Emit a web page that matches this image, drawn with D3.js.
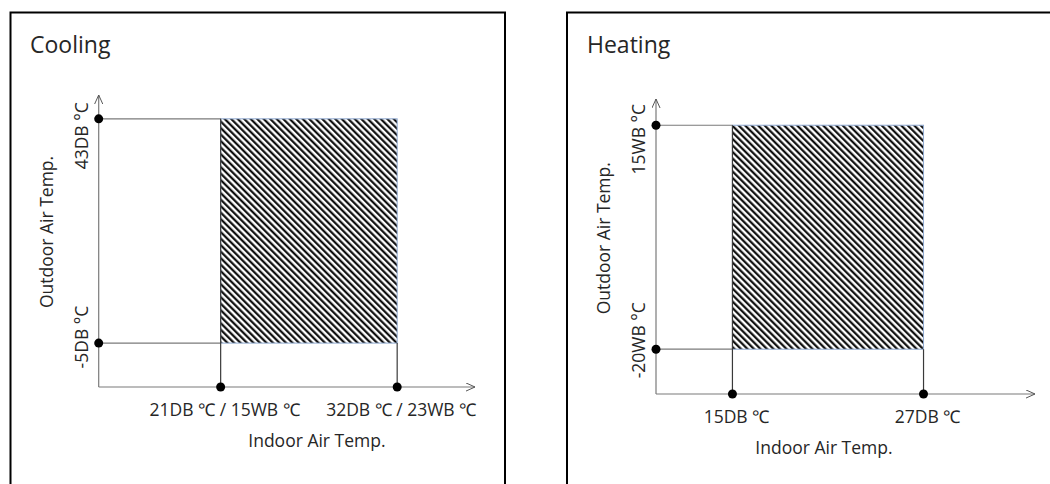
<!DOCTYPE html>
<html>
<head>
<meta charset="utf-8">
<script src="https://cdn.jsdelivr.net/npm/d3@7"></script>
<style>
  body { margin: 0; background: #fff; }
  text { font-family: "Open Sans", Lato, sans-serif; fill: #262626; }
</style>
</head>
<body>
<script>
// data
var titles = ["Cooling", "Heating"];
var indoorLimits = [[21, 32], [15, 27]];
var indoorLabels = [["21DB ℃ / 15WB ℃", "32DB ℃ / 23WB ℃"], ["15DB ℃", "27DB ℃"]];
var outdoorLimits = [[-5, 43], [-20, 15]];
var outdoorLabels = [["-5DB °C", "43DB °C"], ["-20WB °C", "15WB °C"]];
var indoorDomain = [[13.4, 36.85], [10.2, 34.0]];
var outdoorDomain = [[-14.4, 48.1], [-27.0, 19.1]];
var xTitle = "Indoor Air Temp.", yTitle = "Outdoor Air Temp.";

// layout of each panel (box + axis frame)
var panels = [
  { box: [10.5, 12.5, 494.5, 500], tx: 30, x0: 98.7, x1: 475, y0: 387, y1: 95, yShift: [-6, 17], xTitleDx: 8 },
  { box: [567, 12.5, 500, 500], tx: 587, x0: 656, x1: 1035, y0: 394, y1: 99, yShift: [-9, 14], xTitleDx: -4 }
];

var fs = "17.5px";

var svg = d3.select("body").append("svg")
  .attr("width", 1050)
  .attr("height", 484);

var defs = svg.append("defs");
defs.append("pattern")
  .attr("id", "hatch")
  .attr("patternUnits", "userSpaceOnUse")
  .attr("width", 4.6)
  .attr("height", 4.6)
  .attr("patternTransform", "rotate(-45)")
  .append("line")
  .attr("x1", 1.2).attr("y1", -1)
  .attr("x2", 1.2).attr("y2", 6)
  .attr("stroke", "#000")
  .attr("stroke-width", 2.1);

defs.append("marker")
  .attr("id", "arrow")
  .attr("viewBox", "0 0 10 10")
  .attr("refX", 10).attr("refY", 5)
  .attr("markerWidth", 9).attr("markerHeight", 9)
  .attr("markerUnits", "userSpaceOnUse")
  .attr("orient", "auto")
  .append("path")
  .attr("d", "M0,0.5L10,5L0,9.5")
  .attr("fill", "none")
  .attr("stroke", "#555")
  .attr("stroke-width", 1.1);

panels.forEach(function(p, i){
  var g = svg.append("g");

  var x = d3.scaleLinear().domain(indoorDomain[i]).range([p.x0, p.x1]);
  var y = d3.scaleLinear().domain(outdoorDomain[i]).range([p.y0, p.y1]);

  var xs = indoorLimits[i].map(x), ys = outdoorLimits[i].map(y);

  // frame
  g.append("rect")
   .attr("x", p.box[0]).attr("y", p.box[1])
   .attr("width", p.box[2]).attr("height", p.box[3])
   .attr("fill", "none")
   .attr("stroke", "#000")
   .attr("stroke-width", 2);

  g.append("text")
   .attr("x", p.tx).attr("y", 53)
   .style("font-size", "23px")
   .text(titles[i]);

  // hatched region
  g.append("rect")
   .attr("x", xs[0]).attr("y", ys[1])
   .attr("width", xs[1] - xs[0]).attr("height", ys[0] - ys[1])
   .attr("fill", "url(#hatch)")
   .attr("stroke", "#8fa9d0")
   .attr("stroke-width", 1);

  // guide lines
  ys.forEach(function(v){
    g.append("line")
     .attr("x1", p.x0).attr("x2", xs[0])
     .attr("y1", v).attr("y2", v)
     .attr("stroke", "#7a7a7a").attr("stroke-width", 1.2);
  });
  g.append("line")
   .attr("x1", xs[0]).attr("x2", xs[0])
   .attr("y1", ys[1]).attr("y2", p.y0)
   .attr("stroke", "#3a3a3a").attr("stroke-width", 1.2);
  g.append("line")
   .attr("x1", xs[1]).attr("x2", xs[1])
   .attr("y1", ys[0]).attr("y2", p.y0)
   .attr("stroke", "#3a3a3a").attr("stroke-width", 1.2);

  // axes with arrows
  g.append("line")
   .attr("x1", p.x0).attr("y1", p.y0)
   .attr("x2", p.x1).attr("y2", p.y0)
   .attr("stroke", "#7a7a7a").attr("stroke-width", 1.2)
   .attr("marker-end", "url(#arrow)");
  g.append("line")
   .attr("x1", p.x0).attr("y1", p.y0)
   .attr("x2", p.x0).attr("y2", p.y1)
   .attr("stroke", "#7a7a7a").attr("stroke-width", 1.2)
   .attr("marker-end", "url(#arrow)");

  // dots
  g.selectAll(".xdot").data(indoorLimits[i]).enter()
   .append("circle")
   .attr("cx", function(d){ return x(d); })
   .attr("cy", p.y0)
   .attr("r", 4.5)
   .attr("fill", "#000");
  g.selectAll(".ydot").data(outdoorLimits[i]).enter()
   .append("circle")
   .attr("cx", p.x0)
   .attr("cy", function(d){ return y(d); })
   .attr("r", 4.5)
   .attr("fill", "#000");

  // tick labels
  g.selectAll(".xlab").data(indoorLimits[i]).enter()
   .append("text")
   .attr("x", function(d){ return x(d) + 4; })
   .attr("y", p.y0 + 29)
   .attr("text-anchor", "middle")
   .style("font-size", fs)
   .text(function(d, j){ return indoorLabels[i][j]; });

  g.selectAll(".ylab").data(outdoorLimits[i]).enter()
   .append("text")
   .attr("transform", function(d, j){
      return "translate(" + (p.x0 - 11) + "," + (y(d) + p.yShift[j]) + ") rotate(-90)";
   })
   .attr("text-anchor", "middle")
   .style("font-size", fs)
   .text(function(d, j){ return outdoorLabels[i][j]; });

  // axis titles
  g.append("text")
   .attr("x", (xs[0] + xs[1]) / 2 + p.xTitleDx)
   .attr("y", p.y0 + 60)
   .attr("text-anchor", "middle")
   .style("font-size", fs)
   .text(xTitle);

  g.append("text")
   .attr("transform", "translate(" + (p.x0 - 46) + "," + ((ys[0] + ys[1]) / 2 + 1) + ") rotate(-90)")
   .attr("text-anchor", "middle")
   .style("font-size", fs)
   .text(yTitle);
});
</script>
</body>
</html>
